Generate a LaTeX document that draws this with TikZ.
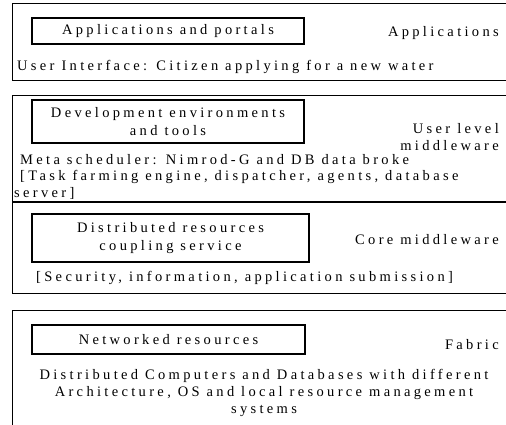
\documentclass[tikz,border=0pt]{standalone}
\usepackage{fontspec}
\setmainfont{Liberation Serif}[LetterSpace=23]
\begin{document}
\begin{tikzpicture}[x=1pt,y=-1pt,
  layer/.style={draw, line width=1.4pt, inner sep=0pt, anchor=north west},
  unit/.style={draw, line width=1.4pt, inner sep=0pt, align=center,
    font=\fontsize{14.5}{17.5}\selectfont},
  txt/.style={inner sep=0pt, font=\fontsize{14.5}{17}\selectfont},
  role/.style={txt, anchor=east, align=right}]
\useasboundingbox (0,0) rectangle (506,425);
\clip (0,0) rectangle (506,425);

% layer frames (open to the right)
\node[layer, minimum width=510pt, minimum height=77pt] (appL) at (12,3) {};
\node[layer, minimum width=510pt, minimum height=198pt] (midL) at (12,95) {};
\node[layer, minimum width=510pt, minimum height=130pt] (fabL) at (12,310) {};
\coordinate (divW) at (12,202);
\coordinate (divE) at (522,202);
\draw[line width=1.4pt] (divW) -- (divE);

% applications layer
\node[unit, minimum width=272pt, minimum height=26pt] (apps) at (168,31) {Applications and portals};
\node[role] (appR) at (499,33) {Applications};
\node[txt, anchor=west] (appT) at (17,67) {User Interface: Citizen applying for a new water};

% user level middleware
\node[unit, minimum width=272pt, minimum height=43pt] (dev) at (168,121.5) {Development environments\\and tools};
\node[role] (userR) at (499,137) {User level\\middleware};
\node[txt, anchor=west] (metaT) at (20,160) {Meta scheduler: Nimrod-G and DB data broke};
\node[txt, anchor=west] (taskT) at (20,177) {[Task farming engine, dispatcher, agents, database};
\node[txt, anchor=west] (servT) at (14,193) {server]};

% core middleware
\node[unit, minimum width=277pt, minimum height=48pt] (core) at (170.5,238) {Distributed resources\\coupling service};
\node[role] (coreR) at (499,240) {Core middleware};
\node[txt, anchor=west] (secT) at (36,278) {[Security, information, application submission]};

% fabric
\node[unit, minimum width=273pt, minimum height=29pt] (net) at (168.5,339.5) {Networked resources};
\node[role] (fabR) at (499,345) {Fabric};
\node[txt, align=center] (fabT) at (264,393) {Distributed Computers and Databases with different\\Architecture, OS and local resource management\\systems};
\end{tikzpicture}
\end{document}
